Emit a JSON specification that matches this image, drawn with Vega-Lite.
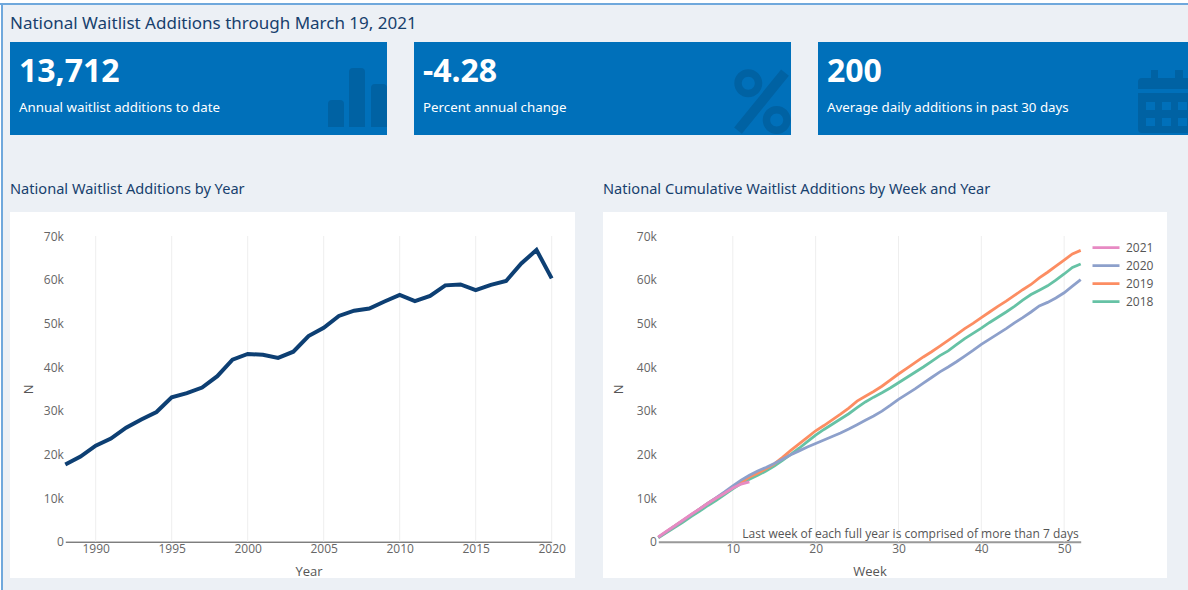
{"$schema":"https://vega.github.io/schema/vega-lite/v6.json","background":"#ecf0f5","padding":0,"spacing":0,
"config":{"view":{"stroke":null},"concat":{"spacing":0},"font":"Open Sans","title":{"font":"Noto Sans","color":"#17406d","anchor":"start","frame":"group","fontWeight":"normal"}},
"datasets":{"blank":[{}],
"gridYear":[{"t":1990},{"t":1995},{"t":2000},{"t":2005},{"t":2010},{"t":2015},{"t":2020}],
"gridWeek":[{"t":10},{"t":20},{"t":30},{"t":40},{"t":50}],
"year":[{"Year":1988,"N":17700},{"Year":1989,"N":19500},{"Year":1990,"N":22000},{"Year":1991,"N":23600},{"Year":1992,"N":26100},{"Year":1993,"N":28000},{"Year":1994,"N":29700},{"Year":1995,"N":33050},{"Year":1996,"N":34000},{"Year":1997,"N":35300},{"Year":1998,"N":37900},{"Year":1999,"N":41700},{"Year":2000,"N":43000},{"Year":2001,"N":42800},{"Year":2002,"N":42100},{"Year":2003,"N":43500},{"Year":2004,"N":47100},{"Year":2005,"N":49000},{"Year":2006,"N":51700},{"Year":2007,"N":52900},{"Year":2008,"N":53400},{"Year":2009,"N":55000},{"Year":2010,"N":56500},{"Year":2011,"N":55100},{"Year":2012,"N":56300},{"Year":2013,"N":58700},{"Year":2014,"N":58900},{"Year":2015,"N":57600},{"Year":2016,"N":58800},{"Year":2017,"N":59700},{"Year":2018,"N":63700},{"Year":2019,"N":66800},{"Year":2020,"N":60300}],
"week":[
{"Y":"2018","W":1,"N":900},{"Y":"2018","W":2,"N":2100},{"Y":"2018","W":3,"N":3300},{"Y":"2018","W":4,"N":4500},{"Y":"2018","W":5,"N":5800},{"Y":"2018","W":6,"N":7000},{"Y":"2018","W":7,"N":8300},{"Y":"2018","W":8,"N":9500},{"Y":"2018","W":9,"N":10800},{"Y":"2018","W":10,"N":12100},{"Y":"2018","W":11,"N":13300},{"Y":"2018","W":12,"N":14300},{"Y":"2018","W":13,"N":15200},{"Y":"2018","W":14,"N":16200},{"Y":"2018","W":15,"N":17300},{"Y":"2018","W":16,"N":18600},{"Y":"2018","W":17,"N":20000},{"Y":"2018","W":18,"N":21400},{"Y":"2018","W":19,"N":22900},{"Y":"2018","W":20,"N":24400},{"Y":"2018","W":21,"N":25700},{"Y":"2018","W":22,"N":26900},{"Y":"2018","W":23,"N":28100},{"Y":"2018","W":24,"N":29300},{"Y":"2018","W":25,"N":30700},{"Y":"2018","W":26,"N":32000},{"Y":"2018","W":27,"N":33100},{"Y":"2018","W":28,"N":34100},{"Y":"2018","W":29,"N":35200},{"Y":"2018","W":30,"N":36400},{"Y":"2018","W":31,"N":37600},{"Y":"2018","W":32,"N":38800},{"Y":"2018","W":33,"N":40000},{"Y":"2018","W":34,"N":41300},{"Y":"2018","W":35,"N":42600},{"Y":"2018","W":36,"N":43700},{"Y":"2018","W":37,"N":45100},{"Y":"2018","W":38,"N":46500},{"Y":"2018","W":39,"N":47700},{"Y":"2018","W":40,"N":48900},{"Y":"2018","W":41,"N":50200},{"Y":"2018","W":42,"N":51400},{"Y":"2018","W":43,"N":52600},{"Y":"2018","W":44,"N":53900},{"Y":"2018","W":45,"N":55300},{"Y":"2018","W":46,"N":56600},{"Y":"2018","W":47,"N":57600},{"Y":"2018","W":48,"N":58600},{"Y":"2018","W":49,"N":59900},{"Y":"2018","W":50,"N":61300},{"Y":"2018","W":51,"N":62800},{"Y":"2018","W":52,"N":63600},
{"Y":"2019","W":1,"N":1000},{"Y":"2019","W":2,"N":2300},{"Y":"2019","W":3,"N":3600},{"Y":"2019","W":4,"N":4900},{"Y":"2019","W":5,"N":6200},{"Y":"2019","W":6,"N":7500},{"Y":"2019","W":7,"N":8800},{"Y":"2019","W":8,"N":10000},{"Y":"2019","W":9,"N":11200},{"Y":"2019","W":10,"N":12400},{"Y":"2019","W":11,"N":13600},{"Y":"2019","W":12,"N":14800},{"Y":"2019","W":13,"N":15700},{"Y":"2019","W":14,"N":16700},{"Y":"2019","W":15,"N":17800},{"Y":"2019","W":16,"N":19300},{"Y":"2019","W":17,"N":20900},{"Y":"2019","W":18,"N":22400},{"Y":"2019","W":19,"N":23900},{"Y":"2019","W":20,"N":25400},{"Y":"2019","W":21,"N":26600},{"Y":"2019","W":22,"N":27900},{"Y":"2019","W":23,"N":29200},{"Y":"2019","W":24,"N":30600},{"Y":"2019","W":25,"N":32200},{"Y":"2019","W":26,"N":33300},{"Y":"2019","W":27,"N":34400},{"Y":"2019","W":28,"N":35600},{"Y":"2019","W":29,"N":37000},{"Y":"2019","W":30,"N":38400},{"Y":"2019","W":31,"N":39700},{"Y":"2019","W":32,"N":41000},{"Y":"2019","W":33,"N":42300},{"Y":"2019","W":34,"N":43500},{"Y":"2019","W":35,"N":44800},{"Y":"2019","W":36,"N":46100},{"Y":"2019","W":37,"N":47400},{"Y":"2019","W":38,"N":48800},{"Y":"2019","W":39,"N":50000},{"Y":"2019","W":40,"N":51300},{"Y":"2019","W":41,"N":52600},{"Y":"2019","W":42,"N":53900},{"Y":"2019","W":43,"N":55100},{"Y":"2019","W":44,"N":56400},{"Y":"2019","W":45,"N":57700},{"Y":"2019","W":46,"N":58900},{"Y":"2019","W":47,"N":60400},{"Y":"2019","W":48,"N":61700},{"Y":"2019","W":49,"N":63100},{"Y":"2019","W":50,"N":64500},{"Y":"2019","W":51,"N":65900},{"Y":"2019","W":52,"N":66700},
{"Y":"2020","W":1,"N":1000},{"Y":"2020","W":2,"N":2300},{"Y":"2020","W":3,"N":3600},{"Y":"2020","W":4,"N":4900},{"Y":"2020","W":5,"N":6200},{"Y":"2020","W":6,"N":7500},{"Y":"2020","W":7,"N":8800},{"Y":"2020","W":8,"N":10100},{"Y":"2020","W":9,"N":11400},{"Y":"2020","W":10,"N":12800},{"Y":"2020","W":11,"N":14100},{"Y":"2020","W":12,"N":15200},{"Y":"2020","W":13,"N":16200},{"Y":"2020","W":14,"N":17000},{"Y":"2020","W":15,"N":17900},{"Y":"2020","W":16,"N":18900},{"Y":"2020","W":17,"N":19900},{"Y":"2020","W":18,"N":20800},{"Y":"2020","W":19,"N":21700},{"Y":"2020","W":20,"N":22500},{"Y":"2020","W":21,"N":23300},{"Y":"2020","W":22,"N":24100},{"Y":"2020","W":23,"N":24900},{"Y":"2020","W":24,"N":25800},{"Y":"2020","W":25,"N":26800},{"Y":"2020","W":26,"N":27800},{"Y":"2020","W":27,"N":28800},{"Y":"2020","W":28,"N":29900},{"Y":"2020","W":29,"N":31200},{"Y":"2020","W":30,"N":32600},{"Y":"2020","W":31,"N":33800},{"Y":"2020","W":32,"N":35000},{"Y":"2020","W":33,"N":36300},{"Y":"2020","W":34,"N":37600},{"Y":"2020","W":35,"N":38900},{"Y":"2020","W":36,"N":40000},{"Y":"2020","W":37,"N":41200},{"Y":"2020","W":38,"N":42500},{"Y":"2020","W":39,"N":43800},{"Y":"2020","W":40,"N":45200},{"Y":"2020","W":41,"N":46400},{"Y":"2020","W":42,"N":47600},{"Y":"2020","W":43,"N":48800},{"Y":"2020","W":44,"N":50100},{"Y":"2020","W":45,"N":51300},{"Y":"2020","W":46,"N":52600},{"Y":"2020","W":47,"N":54000},{"Y":"2020","W":48,"N":54800},{"Y":"2020","W":49,"N":55800},{"Y":"2020","W":50,"N":57000},{"Y":"2020","W":51,"N":58500},{"Y":"2020","W":52,"N":60000},
{"Y":"2021","W":1,"N":1100},{"Y":"2021","W":2,"N":2400},{"Y":"2021","W":3,"N":3700},{"Y":"2021","W":4,"N":5000},{"Y":"2021","W":5,"N":6300},{"Y":"2021","W":6,"N":7500},{"Y":"2021","W":7,"N":8800},{"Y":"2021","W":8,"N":10000},{"Y":"2021","W":9,"N":11100},{"Y":"2021","W":10,"N":12300},{"Y":"2021","W":11,"N":13200},{"Y":"2021","W":12,"N":13700}]},
"vconcat":[
{"width":1188,"height":3,"view":{"fill":"#ffffff"},"data":{"name":"blank"},"mark":{"type":"rect","opacity":0},"encoding":{}},
{"width":1188,"height":2,"view":{"fill":"#6fa8dc"},"data":{"name":"blank"},"mark":{"type":"rect","opacity":0},"encoding":{}},
{"hconcat":[
{"width":1,"height":585,"view":{"fill":"#ffffff"},"data":{"name":"blank"},"mark":{"type":"rect","opacity":0},"encoding":{}},
{"width":2,"height":585,"view":{"fill":"#6fa8dc"},"data":{"name":"blank"},"mark":{"type":"rect","opacity":0},"encoding":{}},
{"width":7,"height":585,"data":{"name":"blank"},"mark":{"type":"rect","opacity":0},"encoding":{}},
{"vconcat":[
{"width":10,"height":10,"data":{"name":"blank"},"mark":{"type":"rect","opacity":0},"encoding":{}},
{"title":{"text":"National Waitlist Additions through March 19, 2021","fontSize":17,"offset":9},"spacing":27,"hconcat":[
{"width":377,"height":93,"view":{"fill":"#0070ba"},"data":{"values":[{"value":"13,712","label":"Annual waitlist additions to date"}]},
"layer":[
{"mark":{"type":"point","filled":true,"clip":true,"color":"#0062a3","opacity":1,"size":4,"shape":"M318 85V62Q318 58 322 58H330Q334 58 334 62V85Z M339 85V30Q339 26 343 26H351Q355 26 355 30V85Z M361 85V46Q361 42 365 42H373Q377 42 377 46V85Z"},"encoding":{"x":{"datum":0,"type":"quantitative","scale":{"domain":[0,377],"nice":false},"axis":null},"y":{"datum":0,"type":"quantitative","scale":{"domain":[0,93],"range":[0,93],"nice":false},"axis":null}}},
{"mark":{"type":"text","align":"left","font":"Noto Sans","fontWeight":"bold","fontSize":32,"color":"#ffffff"},"encoding":{"x":{"datum":9,"type":"quantitative"},"y":{"datum":30,"type":"quantitative"},"text":{"field":"value"}}},
{"mark":{"type":"text","align":"left","font":"Noto Sans","fontSize":13.3,"color":"#ffffff"},"encoding":{"x":{"datum":9,"type":"quantitative"},"y":{"datum":66,"type":"quantitative"},"text":{"field":"label"}}}]},
{"width":377,"height":93,"view":{"fill":"#0070ba"},"data":{"values":[{"value":"-4.28","label":"Percent annual change"}]},
"layer":[
{"mark":{"type":"point","filled":true,"clip":true,"color":"#0062a3","opacity":1,"size":4,"shape":"M320.3 41.3A14 14 0 1 1 348.3 41.3A14 14 0 1 1 320.3 41.3Z M327.8 41.3A6.5 6.5 0 1 0 340.8 41.3A6.5 6.5 0 1 0 327.8 41.3Z M348.7 78A14 14 0 1 1 376.7 78A14 14 0 1 1 348.7 78Z M356.2 78A6.5 6.5 0 1 0 369.2 78A6.5 6.5 0 1 0 356.2 78Z M374.9 33.85L367.1 27.55L320.1 85.55L327.9 91.85Z"},"encoding":{"x":{"datum":0,"type":"quantitative","scale":{"domain":[0,377],"nice":false},"axis":null},"y":{"datum":0,"type":"quantitative","scale":{"domain":[0,93],"range":[0,93],"nice":false},"axis":null}}},
{"mark":{"type":"text","align":"left","font":"Noto Sans","fontWeight":"bold","fontSize":32,"color":"#ffffff"},"encoding":{"x":{"datum":9,"type":"quantitative"},"y":{"datum":30,"type":"quantitative"},"text":{"field":"value"}}},
{"mark":{"type":"text","align":"left","font":"Noto Sans","fontSize":13.3,"color":"#ffffff"},"encoding":{"x":{"datum":9,"type":"quantitative"},"y":{"datum":66,"type":"quantitative"},"text":{"field":"label"}}}]},
{"width":370,"height":93,"view":{"fill":"#0070ba"},"data":{"values":[{"value":"200","label":"Average daily additions in past 30 days"}]},
"layer":[
{"mark":{"type":"point","filled":true,"clip":true,"color":"#0062a3","opacity":1,"size":4,"shape":"M320 51H378V87Q378 91 374 91H324Q320 91 320 87Z M328 60V68H337V60Z M344 60V68H353V60Z M360 60V68H369V60Z M328 76V84H337V76Z M344 76V84H353V76Z M360 76V84H369V76Z M320 47V40Q320 36 324 36H333V28H340V36H357V28H365V36H374Q378 36 378 40V47Z"},"encoding":{"x":{"datum":0,"type":"quantitative","scale":{"domain":[0,370],"nice":false},"axis":null},"y":{"datum":0,"type":"quantitative","scale":{"domain":[0,93],"range":[0,93],"nice":false},"axis":null}}},
{"mark":{"type":"text","align":"left","font":"Noto Sans","fontWeight":"bold","fontSize":32,"color":"#ffffff"},"encoding":{"x":{"datum":9,"type":"quantitative"},"y":{"datum":30,"type":"quantitative"},"text":{"field":"value"}}},
{"mark":{"type":"text","align":"left","font":"Noto Sans","fontSize":13.3,"color":"#ffffff"},"encoding":{"x":{"datum":9,"type":"quantitative"},"y":{"datum":66,"type":"quantitative"},"text":{"field":"label"}}}]}
]},
{"width":10,"height":47,"data":{"name":"blank"},"mark":{"type":"rect","opacity":0},"encoding":{}},
{"spacing":28,"hconcat":[
{"width":565,"height":366,"view":{"fill":"#ffffff"},"title":{"text":"National Waitlist Additions by Year","fontSize":14.6,"offset":15},
"layer":[
{"data":{"name":"gridYear"},"mark":{"type":"rule","color":"#eeeeee","strokeWidth":1},"encoding":{"x":{"field":"t","type":"quantitative","scale":{"domain":[1988,2020],"range":[55.3,541.7],"nice":false,"zero":false}},"y":{"datum":0,"type":"quantitative","scale":{"domain":[0,70000],"range":[329.7,24],"nice":false}},"y2":{"datum":70000}}},
{"data":{"name":"year"},"mark":{"type":"line","color":"#0d3f73","strokeWidth":4,"strokeJoin":"miter"},
"encoding":{"x":{"field":"Year","type":"quantitative","axis":{"offset":-36.3,"grid":false,"values":[1990,1995,2000,2005,2010,2015,2020],"format":"d","tickSize":0,"labelPadding":2,"labelFontSize":12,"labelColor":"#666666","labelBound":false,"labelFlush":false,"domainColor":"#444444","title":"Year","titleFontSize":13,"titleFontWeight":"normal","titleColor":"#555555","titlePadding":11}},
"y":{"field":"N","type":"quantitative","axis":{"offset":-55.3,"values":[0,10000,20000,30000,40000,50000,60000,70000],"labelExpr":"datum.value === 0 ? '0' : (datum.value / 1000) + 'k'","domain":false,"tickSize":0,"labelPadding":2,"labelFontSize":12,"labelColor":"#666666","gridColor":"#eeeeee","title":"N","titleFontSize":13,"titleFontWeight":"normal","titleColor":"#555555","titlePadding":8}}}}
]},
{"width":564,"height":366,"view":{"fill":"#ffffff"},"title":{"text":"National Cumulative Waitlist Additions by Week and Year","fontSize":14.6,"offset":15},
"layer":[
{"data":{"name":"gridWeek"},"mark":{"type":"rule","color":"#eeeeee","strokeWidth":1},"encoding":{"x":{"field":"t","type":"quantitative","scale":{"domain":[1,52],"range":[55.3,477.7],"nice":false,"zero":false}},"y":{"datum":0,"type":"quantitative","scale":{"domain":[0,70000],"range":[329.7,24],"nice":false}},"y2":{"datum":70000}}},
{"data":{"name":"week"},"mark":{"type":"line","strokeWidth":2.8},
"encoding":{"x":{"field":"W","type":"quantitative","axis":{"offset":-36.3,"grid":false,"values":[10,20,30,40,50],"tickSize":0,"labelPadding":2,"labelFontSize":12,"labelColor":"#666666","domainColor":"#999999","domainWidth":2,"title":"Week","titleFontSize":13,"titleFontWeight":"normal","titleColor":"#555555","titlePadding":11}},
"y":{"field":"N","type":"quantitative","axis":{"offset":-55.3,"values":[0,10000,20000,30000,40000,50000,60000,70000],"labelExpr":"datum.value === 0 ? '0' : (datum.value / 1000) + 'k'","domain":false,"tickSize":0,"labelPadding":2,"labelFontSize":12,"labelColor":"#666666","gridColor":"#eeeeee","title":"N","titleFontSize":13,"titleFontWeight":"normal","titleColor":"#555555","titlePadding":11}},
"color":{"field":"Y","type":"nominal","scale":{"domain":["2021","2020","2019","2018"],"range":["#e78ac3","#8da0cb","#fc8d62","#66c2a5"]},"legend":{"orient":"none","legendX":1091,"legendY":239,"title":null,"symbolType":"stroke","symbolSize":729,"symbolStrokeWidth":2.8,"clipHeight":17.3,"rowPadding":0,"labelFontSize":12,"labelColor":"#555555","labelOffset":5}}}},
{"data":{"values":[{"note":"Last week of each full year is comprised of more than 7 days"}]},"mark":{"type":"text","align":"right","fontSize":12,"color":"#555555","dx":-2},"encoding":{"x":{"datum":52,"type":"quantitative"},"y":{"datum":1700,"type":"quantitative"},"text":{"field":"note"}}}
]}
]}
]}
]}
]}
